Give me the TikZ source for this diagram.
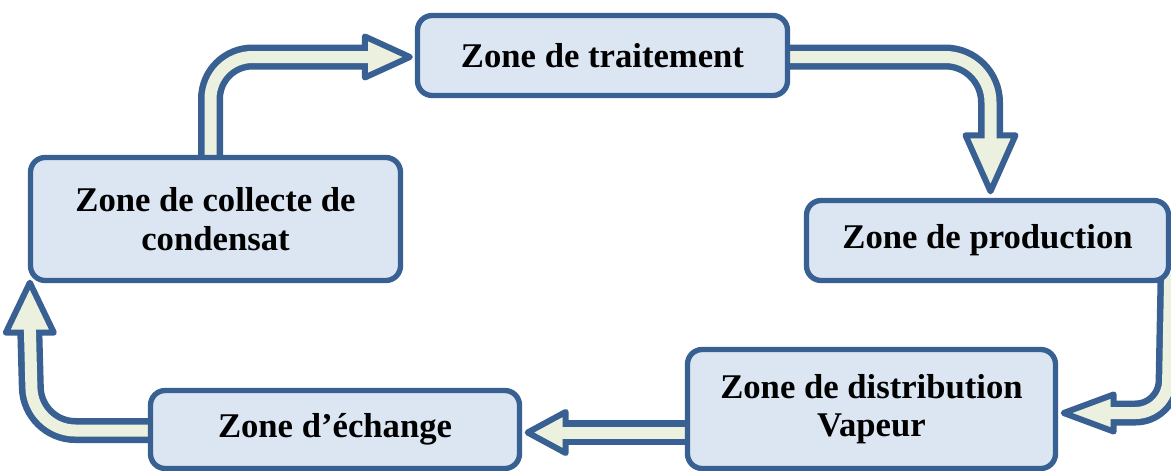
\documentclass[tikz,border=0pt]{standalone}
\usepackage{fontspec}
\setmainfont{Liberation Serif}
\usetikzlibrary{calc}
\definecolor{zoneblue}{HTML}{386092}
\definecolor{zonefill}{HTML}{DCE6F2}
\definecolor{flowfill}{HTML}{EBF1DE}
\pgfdeclarelayer{bg}
\pgfsetlayers{bg,main}
% arrow head: base point, tip point, half width
\newcommand{\flowhead}[3]{\draw[headshape] ($(#1)!#3!90:(#2)$) -- (#2) -- ($(#1)!#3!-90:(#2)$) -- cycle;}
\begin{document}
\begin{tikzpicture}[x=0.75pt,y=-0.75pt,
  zone/.style={draw=zoneblue, fill=zonefill, line width=4pt, rounded corners=11pt,
    align=center, inner sep=0pt, font=\fontsize{26}{29}\selectfont\bfseries},
  shaftout/.style={draw=zoneblue, line width=18.75pt},
  shaftin/.style={draw=flowfill, line width=9pt},
  headshape/.style={fill=flowfill, draw=zoneblue, line width=4.5pt, line join=round},
]
\useasboundingbox (0,0) rectangle (1171,471);

% zones
\node[zone, minimum width=277.5pt, minimum height=60pt] (trait) at (602.5,55.5) {Zone de traitement};
\node[zone, minimum width=271.5pt, minimum height=60pt] (prod) at (987.5,240.5) {Zone de production};
\node[zone, minimum width=276pt, minimum height=89.25pt] (dist) at (871.5,409) {Zone de distribution\\Vapeur};
\node[zone, minimum width=276.75pt, minimum height=58.5pt] (ech) at (335,429.5) {Zone d’échange};
\node[zone, minimum width=277.5pt, minimum height=92.25pt] (coll) at (215.5,219) {Zone de collecte de\\condensat};

% waypoints of the flow arrows
\coordinate (a1c) at (210.5,57);
\coordinate (a1s) at ($(coll.north -| a1c)+(0,15)$);
\coordinate (a1t) at ($(trait.west)+(-5,1.5)$);
\coordinate (a1b) at ($(a1t)+(-45,0)$);

\coordinate (a2s) at ($(trait.east)+(-10,1.5)$);
\coordinate (a2c) at (990.5,57);
\coordinate (a2t) at ($(prod.north)+(3,-6.5)$);
\coordinate (a2b) at ($(a2t)+(0,-56)$);

\coordinate (a3s) at ($(prod.south east)+(-1,-10)$);
\coordinate (a3c) at (1167.5,413);
\coordinate (a3t) at ($(dist.east)+(5.5,4)$);
\coordinate (a3b) at ($(a3t)+(50,0)$);

\coordinate (a4s) at ($(dist.west)+(10,23.5)$);
\coordinate (a4t) at ($(ech.east)+(5.5,3)$);
\coordinate (a4b) at ($(a4t)+(38,0)$);

\coordinate (a5s) at ($(ech.west)+(10,1)$);
\coordinate (a5c) at (32.5,430.5);
\coordinate (a5t) at ($(coll.south west)+(2,-0.5)$);
\coordinate (a5b) at ($(a5t)+(0,50)$);

\begin{pgfonlayer}{bg}
  % treatment loop: collection -> treatment
  \draw[shaftout, rounded corners=31.5pt] (a1s) -- (a1c) -- (a1b);
  \flowhead{a1b}{a1t}{15.4pt}
  \draw[shaftin, rounded corners=31.5pt] (a1s) -- (a1c) -- ($(a1b)!5pt!(a1t)$);

  % treatment -> production
  \draw[shaftout, rounded corners=34pt] (a2s) -- (a2c) -- (a2b);
  \flowhead{a2b}{a2t}{18.75pt}
  \draw[shaftin, rounded corners=34pt] (a2s) -- (a2c) -- ($(a2b)!5pt!(a2t)$);

  % production -> distribution
  \draw[shaftout, rounded corners=24pt] (a3s) -- (a3c) -- (a3b);
  \flowhead{a3b}{a3t}{13.9pt}
  \draw[shaftin, rounded corners=24pt] (a3s) -- (a3c) -- ($(a3b)!5pt!(a3t)$);

  % distribution -> exchange
  \draw[shaftout] (a4s) -- (a4b);
  \flowhead{a4b}{a4t}{15.4pt}
  \draw[shaftin] (a4s) -- ($(a4b)!5pt!(a4t)$);

  % exchange -> collection
  \draw[shaftout, rounded corners=32pt] (a5s) -- (a5c) -- (a5b);
  \flowhead{a5b}{a5t}{18pt}
  \draw[shaftin, rounded corners=32pt] (a5s) -- (a5c) -- ($(a5b)!5pt!(a5t)$);
\end{pgfonlayer}
\end{tikzpicture}
\end{document}
